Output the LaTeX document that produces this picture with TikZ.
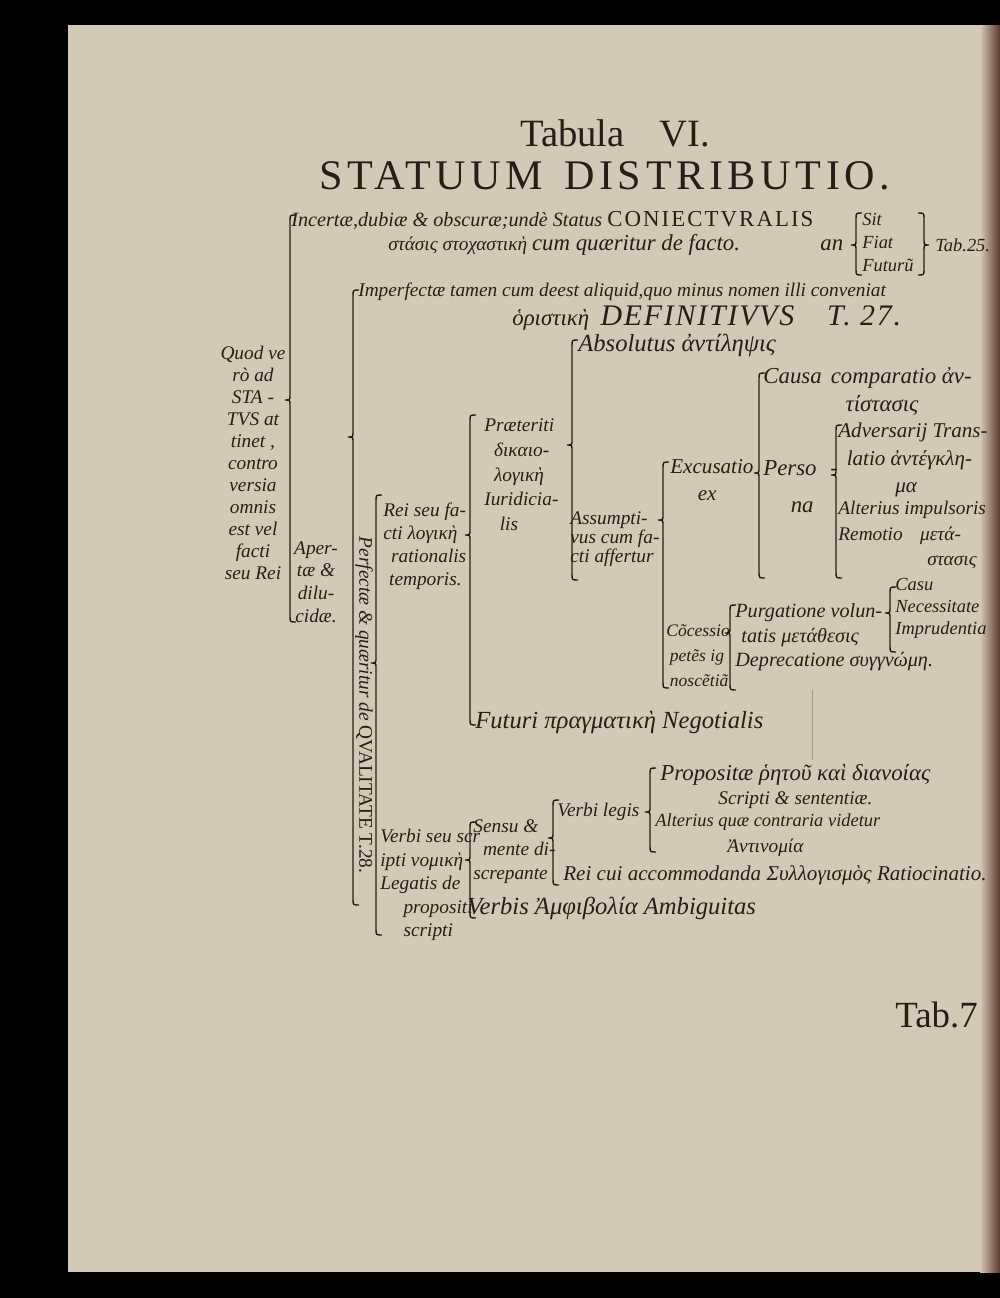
\documentclass[tikz,border=0pt]{standalone}
\usepackage{fontspec}
\setmainfont{Liberation Serif}
\definecolor{paper}{RGB}{212,200,182}
\definecolor{ink}{RGB}{40,30,24}
\definecolor{gutter}{RGB}{92,56,44}
\newcommand{\setfs}[2]{\fontsize{#1}{#2}\selectfont}
% x, top, tip, bottom of an opening brace
\newcommand{\bracketline}[4]{%
  \draw[bracket] (#1+6,#2) .. controls (#1,#2) .. (#1,#2+6) -- (#1,#3-5)
    .. controls (#1,#3) .. (#1-5,#3) .. controls (#1,#3) .. (#1,#3+5)
    -- (#1,#4-6) .. controls (#1,#4) .. (#1+6,#4);}
\tikzset{
  bracket/.style={ink, line width=0.8pt},
  txt/.style={inner sep=0pt, text=ink, anchor=west},
  cell/.style={inner sep=0pt, text=ink, anchor=north west, align=left},
}
\begin{document}
\begin{tikzpicture}[x=0.02cm,y=-0.02cm]
  \useasboundingbox (0,0) rectangle (1000,1298);
  \fill[black] (0,0) rectangle (1000,1298);
  \fill[paper] (68,25) rectangle (992,1272);
  \shade[left color=paper, right color=gutter] (980,25) rectangle (1000,1272);

  \node[txt, anchor=center, font=\setfs{22}{23}] (tabula) at (615,133) {Tabula\hspace{0.9em}VI.};
  \node[txt, anchor=center, font=\setfs{24}{26}\addfontfeatures{LetterSpace=11}] (distrib) at (605,176) {STATUUM\hspace{0.5em}DISTRIBUTIO.};

  % first branch
  \node[txt, font=\itshape\setfs{11.5}{14}] (incert) at (291,220)
    {Incertæ,dubiæ \& obscuræ;undè Status {\upshape\setfs{13}{14}\addfontfeatures{LetterSpace=9}CONIECTVRALIS}};
  \node[txt, font=\itshape\setfs{11}{14}] (stasis) at (388,245)
    {στάσις στοχαστικὴ {\setfs{13}{14}cum quæritur de facto.}};
  \node[txt, font=\itshape\setfs{13}{14}] (an) at (820,245) {an};
  \node[cell, font=\itshape\setfs{10.5}{13}] (sit) at (862,213) {Sit\\Fiat\\Futurũ};
  \node[txt, font=\itshape\setfs{10.5}{12}] (tab25) at (935,245) {Tab.25.};
  \bracketline{856}{213}{245}{275}
  \draw[bracket] (918,213) .. controls (924,213) .. (924,219) -- (924,240)
    .. controls (924,245) .. (929,245) .. controls (924,245) .. (924,250)
    -- (924,269) .. controls (924,275) .. (918,275);

  \node[txt, font=\itshape\setfs{11}{13}] (imperf) at (358,292)
    {Imperfectæ tamen cum deest aliquid,quo minus nomen illi conveniat};
  \node[txt, font=\itshape\setfs{13}{14}] (defin) at (512,318)
    {ὁριστικὴ\hspace{0.5em}{\setfs{17}{18}\addfontfeatures{LetterSpace=6}DEFINITIVVS\hspace{1.1em}T. 27.}};

  % left column
  \node[cell, anchor=north, align=center, font=\itshape\setfs{11}{12.5}] (quod) at (253,346)
    {Quod ve\\rò ad\\STA -\\TVS at\\tinet ,\\contro\\versia\\omnis\\est vel\\facti\\seu Rei};
  \node[cell, anchor=north, align=center, font=\itshape\setfs{11}{13}] (aper) at (316,541)
    {Aper-\\tæ \&\\dilu-\\cidæ.};
  \node[txt, anchor=center, rotate=-90, font=\itshape\setfs{11}{13}] (qualit) at (364,705)
    {Perfectæ \& quæritur de {\upshape QVALITATE T.28.}};

  % qualitas, rei seu facti
  \node[cell, font=\itshape\setfs{11}{13}] (reiseu) at (383,503)
    {Rei seu fa-\\cti λογικὴ\\\hspace{0.4em}rationalis\\\hspace{0.3em}temporis.};
  \node[cell, font=\itshape\setfs{11}{14.2}] (praet) at (484,418)
    {Præteriti\\\hspace{0.5em}δικαιο-\\\hspace{0.5em}λογικὴ\\Iuridicia-\\\hspace{0.8em}lis};
  \node[txt, font=\itshape\setfs{14}{16}] (futuri) at (475,722) {Futuri πραγματικὴ Negotialis};
  \node[txt, font=\itshape\setfs{14}{16}] (absol) at (578,345) {Absolutus ἀντίληψις};
  \node[cell, font=\itshape\setfs{11}{10.8}] (assum) at (570,511)
    {Assumpti-\\vus cum fa-\\cti affertur};
  \node[cell, font=\itshape\setfs{12}{15.4}] (excus) at (670,459)
    {Excusatio\\\hspace{1.3em}ex};
  \node[cell, font=\itshape\setfs{13}{21}] (perso) at (763,460)
    {Perso\hspace{0.6em}-\\\hspace{1.2em}na};
  \node[cell, font=\itshape\setfs{13}{16}] (causa) at (763,367)
    {Causa\hspace{0.4em}comparatio ἀν-\\\hspace{3.6em}τίστασις};
  \node[cell, font=\itshape\setfs{12}{15.6}] (advers) at (838,423)
    {Adversarij Trans-\\\hspace{0.4em}latio ἀντέγκλη-\\\hspace{2.7em}μα};
  \node[cell, font=\itshape\setfs{11}{14.5}] (alter) at (838,501)
    {Alterius impulsoris\\Remotio\hspace{0.9em}μετά-\\\hspace{4.6em}στασις};
  \node[cell, font=\itshape\setfs{10}{14.2}] (conc) at (666,624)
    {Cõcessio\\\hspace{0.2em}petẽs ig\\\hspace{0.2em}noscẽtiã};
  \node[cell, font=\itshape\setfs{11.5}{14.2}] (purg) at (735,603)
    {Purgatione volun-\\\hspace{0.3em}tatis μετάθεσις};
  \node[txt, font=\itshape\setfs{11.5}{14}] (depr) at (735,662) {Deprecatione συγγνώμη.};
  \node[cell, font=\itshape\setfs{10.5}{12.5}] (casu) at (895,578)
    {Casu\\Necessitate\\Imprudentia};

  % verbi seu scripti
  \node[cell, font=\itshape\setfs{11}{13.4}] (verbiseu) at (380,829)
    {Verbi seu scr\\ipti νομικὴ\\Legatis de\\\hspace{1.2em}propositi\\\hspace{1.2em}scripti};
  \node[cell, font=\itshape\setfs{11}{13.4}] (sensu) at (473,819)
    {Sensu \&\\\hspace{0.5em}mente di-\\screpante};
  \node[txt, font=\itshape\setfs{11}{13}] (verbileg) at (557,812) {Verbi legis};
  \node[txt, font=\itshape\setfs{13}{15}] (propos) at (660,775) {Propositæ ῥητοῦ καὶ διανοίας};
  \node[txt, font=\itshape\setfs{11}{13}] (script) at (718,800) {Scripti \& sententiæ.};
  \node[txt, font=\itshape\setfs{10.5}{13}] (alter2) at (655,822) {Alterius quæ contraria videtur};
  \node[txt, font=\itshape\setfs{11}{13}] (antin) at (727,848) {Ἀντινομία};
  \node[txt, font=\itshape\setfs{12}{14}] (reicui) at (563,875)
    {Rei cui accommodanda Συλλογισμὸς Ratiocinatio.};
  \node[txt, font=\itshape\setfs{14}{16}] (verbis) at (467,908) {Verbis Ἀμφιβολία Ambiguitas};

  \node[txt, font=\setfs{21}{22}] (tab7) at (895,1015) {Tab.7};

  % braces
  \bracketline{290}{215}{400}{622}
  \bracketline{353}{290}{437}{905}
  \bracketline{376}{495}{663}{935}
  \bracketline{470}{415}{535}{725}
  \bracketline{572}{340}{445}{580}
  \bracketline{663}{462}{520}{688}
  \bracketline{759}{373}{473}{578}
  \bracketline{836}{425}{475}{578}
  \bracketline{730}{605}{633}{690}
  \bracketline{890}{587}{613}{652}
  \bracketline{470}{822}{860}{918}
  \bracketline{553}{800}{838}{885}
  \bracketline{650}{768}{812}{852}
  \draw[ink!45, line width=0.5pt] (812,690) -- (812,760);
\end{tikzpicture}
\end{document}
